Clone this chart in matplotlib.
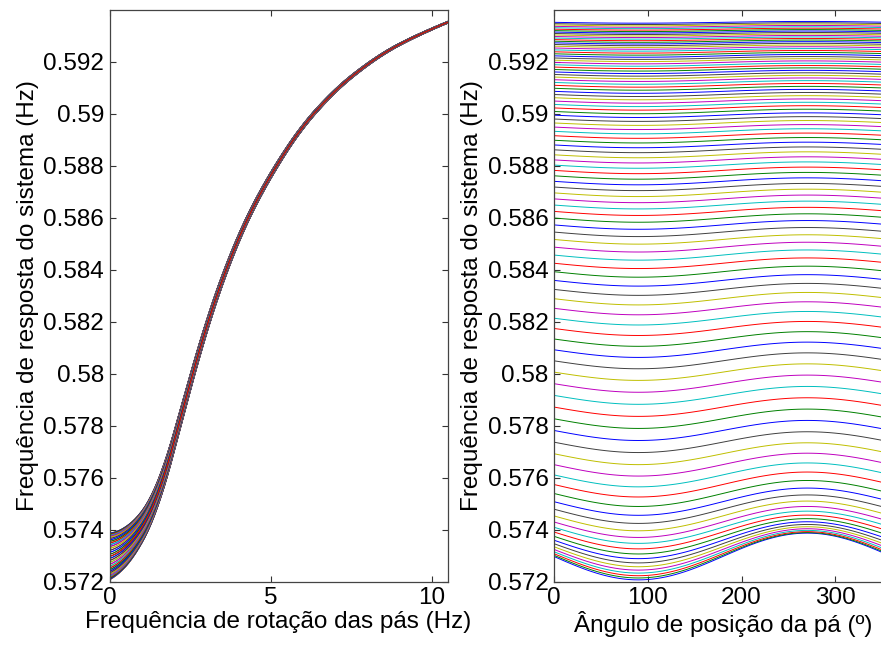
import numpy as np
import matplotlib
matplotlib.use("Agg")
import matplotlib.pyplot as plt

# ---------------- data ----------------
# blade rotation frequency (Hz): one line per value in the right panel
rotation_freq = [round(0.1 * i, 1) for i in range(106)]

# mean system response frequency (Hz) at each rotation frequency
mean_freq = [
    0.572970, 0.573017, 0.573078, 0.573153, 0.573242, 0.573345, 0.573463, 0.573597, 0.573747, 0.573913,
    0.574095, 0.574299, 0.574531, 0.574791, 0.575079, 0.575395, 0.575740, 0.576110, 0.576505, 0.576925,
    0.577370, 0.577820, 0.578270, 0.578720, 0.579170, 0.579620, 0.580065, 0.580500, 0.580925, 0.581340,
    0.581745, 0.582139, 0.582521, 0.582891, 0.583249, 0.583595, 0.583930, 0.584255, 0.584570, 0.584875,
    0.585170, 0.585455, 0.585730, 0.585995, 0.586250, 0.586495, 0.586732, 0.586963, 0.587188, 0.587407,
    0.587620, 0.587828, 0.588032, 0.588232, 0.588428, 0.588620, 0.588807, 0.588988, 0.589163, 0.589332,
    0.589495, 0.589653, 0.589805, 0.589953, 0.590095, 0.590232, 0.590366, 0.590496, 0.590624, 0.590748,
    0.590870, 0.590988, 0.591102, 0.591212, 0.591318, 0.591420, 0.591519, 0.591616, 0.591711, 0.591804,
    0.591895, 0.591984, 0.592070, 0.592154, 0.592236, 0.592315, 0.592392, 0.592466, 0.592538, 0.592607,
    0.592673, 0.592737, 0.592800, 0.592862, 0.592922, 0.592981, 0.593039, 0.593096, 0.593152, 0.593208,
    0.593263, 0.593318, 0.593371, 0.593424, 0.593475, 0.593526,
]

# half peak-to-peak variation with blade angle (Hz) at each rotation frequency
variation = [
    0.000900, 0.000874, 0.000848, 0.000822, 0.000796, 0.000770, 0.000740, 0.000710, 0.000680, 0.000650,
    0.000620, 0.000596, 0.000572, 0.000548, 0.000524, 0.000500, 0.000480, 0.000460, 0.000440, 0.000420,
    0.000400, 0.000386, 0.000372, 0.000358, 0.000344, 0.000330, 0.000318, 0.000306, 0.000294, 0.000282,
    0.000270, 0.000260, 0.000250, 0.000240, 0.000230, 0.000220, 0.000212, 0.000204, 0.000196, 0.000188,
    0.000180, 0.000174, 0.000168, 0.000162, 0.000156, 0.000150, 0.000146, 0.000142, 0.000138, 0.000134,
    0.000130, 0.000126, 0.000122, 0.000118, 0.000114, 0.000110, 0.000107, 0.000104, 0.000101, 0.000098,
    0.000095, 0.000093, 0.000091, 0.000089, 0.000087, 0.000085, 0.000083, 0.000081, 0.000079, 0.000077,
    0.000075, 0.000073, 0.000071, 0.000069, 0.000067, 0.000065, 0.000064, 0.000062, 0.000061, 0.000059,
    0.000058, 0.000057, 0.000055, 0.000054, 0.000053, 0.000052, 0.000051, 0.000049, 0.000048, 0.000047,
    0.000046, 0.000045, 0.000044, 0.000043, 0.000042, 0.000041, 0.000040, 0.000039, 0.000039, 0.000038,
    0.000037, 0.000036, 0.000035, 0.000035, 0.000034, 0.000033,
]

# blade position angle (deg) and the angular shape of the variation
blade_angle = list(range(0, 361, 5))
angle_shape = [
    0.000, -0.087, -0.174, -0.259, -0.342, -0.423, -0.500, -0.574, -0.643, -0.707,
    -0.766, -0.819, -0.866, -0.906, -0.940, -0.966, -0.985, -0.996, -1.000, -0.996,
    -0.985, -0.966, -0.940, -0.906, -0.866, -0.819, -0.766, -0.707, -0.643, -0.574,
    -0.500, -0.423, -0.342, -0.259, -0.174, -0.087, 0.000, 0.087, 0.174, 0.259,
    0.342, 0.423, 0.500, 0.574, 0.643, 0.707, 0.766, 0.819, 0.866, 0.906,
    0.940, 0.966, 0.985, 0.996, 1.000, 0.996, 0.985, 0.966, 0.940, 0.906,
    0.866, 0.819, 0.766, 0.707, 0.643, 0.574, 0.500, 0.423, 0.342, 0.259,
    0.174, 0.087, 0.000,
]

y_ticks = [0.572, 0.574, 0.576, 0.578, 0.580, 0.582, 0.584, 0.586, 0.588, 0.590, 0.592]
y_tick_labels = ["0.572", "0.574", "0.576", "0.578", "0.58", "0.582", "0.584",
                 "0.586", "0.588", "0.59", "0.592"]
x1_ticks = [0, 5, 10]
x2_ticks = [0, 100, 200, 300]

# response frequency table: rows = rotation frequency, columns = blade angle
resp = (np.array(mean_freq)[:, None]
        + np.array(variation)[:, None] * np.array(angle_shape)[None, :])

# ---------------- styling ----------------
matlab_colors = [(0, 0, 1), (0, 0.5, 0), (1, 0, 0), (0, 0.75, 0.75),
                 (0.75, 0, 0.75), (0.75, 0.75, 0), (0.25, 0.25, 0.25)]
plt.rcParams['font.family'] = ['Liberation Sans', 'DejaVu Sans']
plt.rcParams['axes.prop_cycle'] = plt.cycler(color=matlab_colors)

W, H = 881, 646
fig = plt.figure(figsize=(W / 100, H / 100), dpi=100)

def px_axes(x0, x1, y0, y1):
    return fig.add_axes([x0 / W, 1 - y1 / H, (x1 - x0) / W, (y1 - y0) / H])

ax1 = px_axes(109.5, 447.7, 10, 581.7)
ax2 = px_axes(554, 891.6, 10, 581.7)

lw = 0.7
ax1.plot(rotation_freq, resp, lw=lw)
ax2.plot(blade_angle, resp.T, lw=lw)

fs = 17.5
for ax in (ax1, ax2):
    ax.set_ylim(0.572, 0.594)
    ax.set_yticks(y_ticks)
    ax.set_yticklabels(y_tick_labels)
    ax.tick_params(direction='in', length=4, width=0.8, labelsize=fs,
                   top=True, right=True, color='#333333', pad=4)
    for s in ax.spines.values():
        s.set_color('#444444')
        s.set_linewidth(0.9)
    ax.set_ylabel("Frequência de resposta do sistema (Hz)", fontsize=fs, labelpad=3)

ax1.set_xlim(0, 10.5)
ax1.set_xticks(x1_ticks)
ax1.set_xticklabels([str(t) for t in x1_ticks])
ax1.set_xlabel("Frequência de rotação das pás (Hz)", fontsize=fs, labelpad=1)

ax2.set_xlim(0, 360)
ax2.set_xticks(x2_ticks)
ax2.set_xticklabels([str(t) for t in x2_ticks])
ax2.set_xlabel("Ângulo de posição da pá (º)", fontsize=fs, labelpad=1)

fig.savefig("out.png", dpi=100)
